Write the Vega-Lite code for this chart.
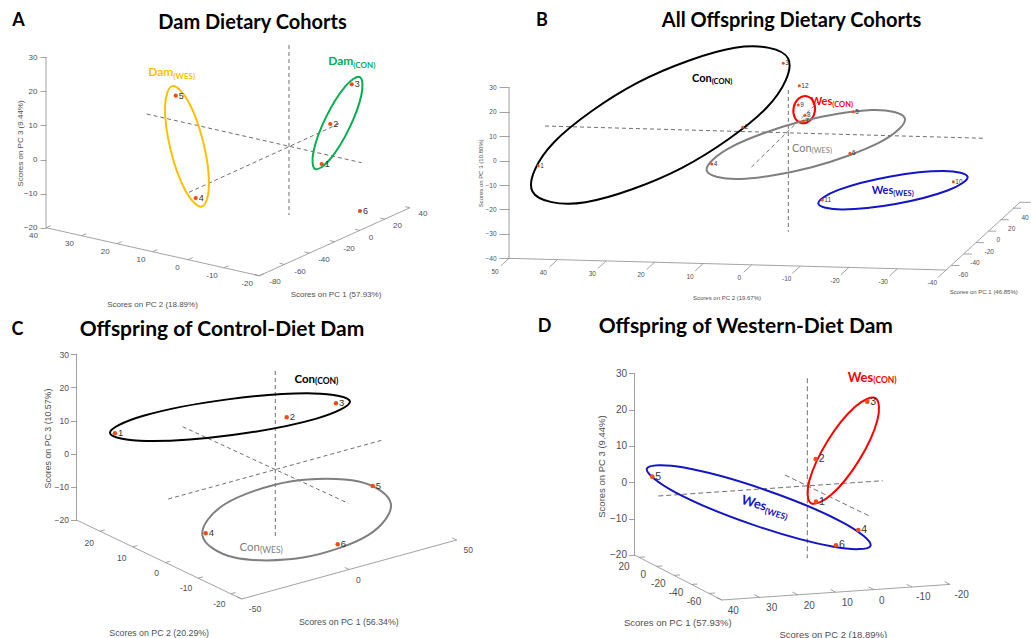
{
"$schema": "https://vega.github.io/schema/vega-lite/v6.json",
"padding": 0,
"background": "white",
"spacing": 5,
"config": {"view": {"stroke": null}, "axis": {"grid": false}},
"resolve": {"scale": {"color": "independent"}},
"datasets": {
"aAxes": [
{"x":0,"y":-20,"x2":0,"y2":30},
{"x":0,"y":-20,"x2":62.55,"y2":-34.08},
{"x":62.55,"y":-34.08,"x2":106.74,"y2":-14.14},
{"x":0,"y":-20,"x2":1.35,"y2":-19.41},
{"x":10.43,"y":-22.35,"x2":11.78,"y2":-21.76},
{"x":20.85,"y":-24.69,"x2":22.2,"y2":-24.1},
{"x":31.28,"y":-27.04,"x2":32.63,"y2":-26.45},
{"x":41.7,"y":-29.38,"x2":43.05,"y2":-28.79},
{"x":52.13,"y":-31.73,"x2":53.48,"y2":-31.14},
{"x":62.55,"y":-34.08,"x2":63.9,"y2":-33.49},
{"x":62.55,"y":-34.08,"x2":61.11,"y2":-33.76},
{"x":69.92,"y":-30.76,"x2":68.48,"y2":-30.44},
{"x":77.28,"y":-27.43,"x2":75.84,"y2":-27.11},
{"x":84.65,"y":-24.11,"x2":83.21,"y2":-23.79},
{"x":92.01,"y":-20.79,"x2":90.57,"y2":-20.47},
{"x":99.38,"y":-17.47,"x2":97.94,"y2":-17.15},
{"x":106.74,"y":-14.14,"x2":105.3,"y2":-13.82}
],
"aGuides": [
{"x":71.26,"y":33.58,"x2":71.26,"y2":-16.28},
{"x":29.53,"y":13.34,"x2":92.58,"y2":-0.94},
{"x":41.94,"y":-9.62,"x2":86.22,"y2":10.62}
],
"aEll": [
{"g":"Dam(WES)","i":0,"x":37.01,"y":21.51},{"g":"Dam(WES)","i":1,"x":34.91,"y":15.51},{"g":"Dam(WES)","i":2,"x":36.58,"y":2.68},{"g":"Dam(WES)","i":3,"x":41.04,"y":-9.46},
{"g":"Dam(WES)","i":4,"x":45.69,"y":-13.8},{"g":"Dam(WES)","i":5,"x":47.79,"y":-7.8},{"g":"Dam(WES)","i":6,"x":46.12,"y":5.03},{"g":"Dam(WES)","i":7,"x":41.66,"y":17.17},
{"g":"Dam(CON)","i":0,"x":92.04,"y":24.18},{"g":"Dam(CON)","i":1,"x":87.71,"y":21.4},{"g":"Dam(CON)","i":2,"x":82.08,"y":12.36},{"g":"Dam(CON)","i":3,"x":78.44,"y":2.34},
{"g":"Dam(CON)","i":4,"x":78.92,"y":-2.78},{"g":"Dam(CON)","i":5,"x":83.25,"y":0.0},{"g":"Dam(CON)","i":6,"x":88.88,"y":9.04},{"g":"Dam(CON)","i":7,"x":92.52,"y":19.06}
],
"aPts": [
{"id":"5","x":38.04,"y":18.71},{"id":"4","x":43.9,"y":-11.29},{"id":"3","x":89.65,"y":22.05},
{"id":"2","x":83.37,"y":10.41},{"id":"1","x":80.85,"y":-1.32},{"id":"6","x":92.08,"y":-15.1}
],
"aTicks": [
{"t":"40","x":-3.67,"y":-22.38},{"t":"30","x":6.89,"y":-24.66},{"t":"20","x":17.39,"y":-27.16},{"t":"10","x":27.86,"y":-29.56},
{"t":"0","x":38.56,"y":-31.85},{"t":"-10","x":48.68,"y":-34.16},{"t":"-20","x":59.0,"y":-36.54},
{"t":"-80","x":67.16,"y":-36.01},{"t":"-60","x":74.49,"y":-32.9},{"t":"-40","x":81.52,"y":-29.47},{"t":"-20","x":88.86,"y":-26.16},
{"t":"0","x":95.31,"y":-22.93},{"t":"20","x":103.08,"y":-19.5},{"t":"40","x":110.56,"y":-16.07}
],
"aTitles": [
{"t":"Scores on PC 2 (18.89%)","x":31.23,"y":-42.52},
{"t":"Scores on PC 1 (57.93%)","x":85.04,"y":-39.74}
],
"aLab": [
{"g":"Dam(WES)","p":"main","t":"Dam","x":37.33,"y":24.49},
{"g":"Dam(WES)","p":"sub","t":"(WES)","x":37.33,"y":23.75},
{"g":"Dam(CON)","p":"main","t":"Dam","x":90.12,"y":27.62},
{"g":"Dam(CON)","p":"sub","t":"(CON)","x":90.12,"y":26.83}
],
"bAxes": [
{"x":0,"y":-40,"x2":0,"y2":30},
{"x":0,"y":-40,"x2":178.89,"y2":-44.79},
{"x":178.89,"y":-44.79,"x2":209.17,"y2":-17.07},
{"x":209.17,"y":-17.07,"x2":213.5,"y2":-17.07},
{"x":0,"y":-40,"x2":-3.32,"y2":-43.03},
{"x":19.88,"y":-40.53,"x2":16.56,"y2":-43.56},
{"x":39.75,"y":-41.06,"x2":36.43,"y2":-44.09},
{"x":59.63,"y":-41.6,"x2":56.31,"y2":-44.63},
{"x":79.51,"y":-42.13,"x2":76.19,"y2":-45.16},
{"x":99.39,"y":-42.66,"x2":96.07,"y2":-45.69},
{"x":119.26,"y":-43.19,"x2":115.94,"y2":-46.22},
{"x":139.14,"y":-43.72,"x2":135.82,"y2":-46.75},
{"x":159.02,"y":-44.26,"x2":155.7,"y2":-47.29},
{"x":178.89,"y":-44.79,"x2":175.57,"y2":-47.82},
{"x":181.05,"y":-42.94,"x2":184.32,"y2":-42.94},
{"x":186.12,"y":-38.23,"x2":189.39,"y2":-38.23},
{"x":191.16,"y":-33.57,"x2":194.43,"y2":-33.57},
{"x":196.19,"y":-28.86,"x2":199.46,"y2":-28.86},
{"x":201.27,"y":-24.19,"x2":204.54,"y2":-24.19},
{"x":206.3,"y":-19.48,"x2":209.57,"y2":-19.48}
],
"bGuides": [
{"x":114.33,"y":28.9,"x2":114.33,"y2":-29.1},
{"x":14.74,"y":14.16,"x2":194.56,"y2":9.13},
{"x":99.26,"y":-2.62,"x2":126.48,"y2":23.99}
],
"bEll": [
{"g":"Con(CON)","i":0,"x":114.25,"y":41.81},{"g":"Con(CON)","i":1,"x":92.51,"y":46.16},{"g":"Con(CON)","i":2,"x":52.86,"y":32.0},{"g":"Con(CON)","i":3,"x":18.52,"y":7.63},
{"g":"Con(CON)","i":4,"x":9.61,"y":-12.67},{"g":"Con(CON)","i":5,"x":31.35,"y":-17.02},{"g":"Con(CON)","i":6,"x":71.0,"y":-2.86},{"g":"Con(CON)","i":7,"x":105.34,"y":21.51},
{"g":"Wes(CON)","i":0,"x":121.81,"y":26.37},{"g":"Wes(CON)","i":1,"x":118.45,"y":25.29},{"g":"Wes(CON)","i":2,"x":116.49,"y":21.61},{"g":"Wes(CON)","i":3,"x":117.07,"y":17.48},
{"g":"Wes(CON)","i":4,"x":119.87,"y":15.32},{"g":"Wes(CON)","i":5,"x":123.23,"y":16.39},{"g":"Wes(CON)","i":6,"x":125.19,"y":20.07},{"g":"Wes(CON)","i":7,"x":124.61,"y":24.2},
{"g":"Con(WES)","i":0,"x":162.04,"y":17.23},{"g":"Con(WES)","i":1,"x":148.44,"y":20.7},{"g":"Con(WES)","i":2,"x":119.05,"y":15.9},{"g":"Con(WES)","i":3,"x":91.09,"y":5.65},
{"g":"Con(WES)","i":4,"x":80.94,"y":-4.05},{"g":"Con(WES)","i":5,"x":94.54,"y":-7.52},{"g":"Con(WES)","i":6,"x":123.93,"y":-2.72},{"g":"Con(WES)","i":7,"x":151.89,"y":7.53},
{"g":"Wes(WES)","i":0,"x":187.73,"y":-6.65},{"g":"Wes(WES)","i":1,"x":178.07,"y":-4.26},{"g":"Wes(WES)","i":2,"x":156.17,"y":-6.48},{"g":"Wes(WES)","i":3,"x":134.86,"y":-12.0},
{"g":"Wes(WES)","i":4,"x":126.63,"y":-17.59},{"g":"Wes(WES)","i":5,"x":136.29,"y":-19.98},{"g":"Wes(WES)","i":6,"x":158.19,"y":-17.76},{"g":"Wes(WES)","i":7,"x":179.5,"y":-12.24}
],
"bPts": [
{"id":"1","x":11.99,"y":-2.09},{"id":"2","x":95.66,"y":13.63},{"id":"3","x":112.28,"y":39.83},{"id":"4","x":82.97,"y":-1.39},
{"id":"5","x":140.93,"y":20.02},{"id":"6","x":139.58,"y":2.99},{"id":"7","x":120.47,"y":16.21},{"id":"8","x":121.16,"y":18.54},
{"id":"9","x":118.42,"y":22.76},{"id":"10","x":181.87,"y":-8.64},{"id":"11","x":128.24,"y":-16.13},{"id":"12","x":118.83,"y":30.66}
],
"bTicks": [
{"t":"50","x":-5.73,"y":-45.48},{"t":"40","x":14.04,"y":-45.89},{"t":"30","x":34.1,"y":-46.42},{"t":"20","x":54.03,"y":-46.95},
{"t":"10","x":74.09,"y":-47.52},{"t":"0","x":94.27,"y":-48.06},{"t":"-10","x":113.67,"y":-48.59},{"t":"-20","x":133.44,"y":-49.16},
{"t":"-30","x":153.21,"y":-49.69},{"t":"-40","x":173.27,"y":-50.23},
{"t":"-60","x":185.96,"y":-46.83},{"t":"-40","x":190.75,"y":-41.79},{"t":"-20","x":196.6,"y":-37.29},{"t":"0","x":200.29,"y":-32.5},
{"t":"20","x":205.77,"y":-28.0},{"t":"40","x":211.22,"y":-23.37}
],
"bTitles": [
{"t":"Scores on PC 2 (19.67%)","x":89.23,"y":-56.37},
{"t":"Scores on PC 1 (46.85%)","x":194.31,"y":-53.66}
],
"bLab": [
{"g":"Con(CON)","p":"main","t":"Con","x":82.97,"y":32.3},
{"g":"Con(CON)","p":"sub","t":"(CON)","x":82.97,"y":31.56},
{"g":"Wes(CON)","p":"main","t":"Wes","x":132.34,"y":22.76},
{"g":"Wes(CON)","p":"sub","t":"(CON)","x":132.34,"y":22.06},
{"g":"Con(WES)","p":"main","t":"Con","x":123.91,"y":3.64},
{"g":"Con(WES)","p":"sub","t":"(WES)","x":123.91,"y":3.11},
{"g":"Wes(WES)","p":"main","t":"Wes","x":157.31,"y":-13.67},
{"g":"Wes(WES)","p":"sub","t":"(WES)","x":157.31,"y":-14.49}
],
"cAxes": [
{"x":0,"y":-20,"x2":0,"y2":30},
{"x":0,"y":-20,"x2":49.85,"y2":-43.84},
{"x":49.85,"y":-43.84,"x2":114.73,"y2":-26.04},
{"x":7.09,"y":-23.39,"x2":8.54,"y2":-23.0},
{"x":16.96,"y":-28.11,"x2":18.41,"y2":-27.72},
{"x":26.83,"y":-32.83,"x2":28.28,"y2":-32.44},
{"x":36.69,"y":-37.55,"x2":38.14,"y2":-37.16},
{"x":46.56,"y":-42.27,"x2":48.01,"y2":-41.88},
{"x":49.85,"y":-43.84,"x2":48.49,"y2":-43.21},
{"x":82.29,"y":-34.94,"x2":80.93,"y2":-34.31},
{"x":114.73,"y":-26.04,"x2":113.37,"y2":-25.41}
],
"cGuides": [
{"x":59.99,"y":24.95,"x2":59.99,"y2":-25.05},
{"x":32.05,"y":8.15,"x2":82.02,"y2":-14.97},
{"x":27.7,"y":-13.67,"x2":92.4,"y2":4.13}
],
"cEll": [
{"g":"Con(CON)","i":0,"x":82.52,"y":15.79},{"g":"Con(CON)","i":1,"x":71.41,"y":18.19},{"g":"Con(CON)","i":2,"x":45.61,"y":16.39},{"g":"Con(CON)","i":3,"x":20.22,"y":11.44},
{"g":"Con(CON)","i":4,"x":10.12,"y":6.23},{"g":"Con(CON)","i":5,"x":21.23,"y":3.83},{"g":"Con(CON)","i":6,"x":47.03,"y":5.63},{"g":"Con(CON)","i":7,"x":72.42,"y":10.58},
{"g":"Con(WES)","i":0,"x":94.86,"y":-15.11},{"g":"Con(WES)","i":1,"x":85.18,"y":-8.37},{"g":"Con(WES)","i":2,"x":64.51,"y":-8.37},{"g":"Con(WES)","i":3,"x":44.97,"y":-15.1},
{"g":"Con(WES)","i":4,"x":38.0,"y":-24.62},{"g":"Con(WES)","i":5,"x":47.69,"y":-31.35},{"g":"Con(WES)","i":6,"x":68.35,"y":-31.35},{"g":"Con(WES)","i":7,"x":87.89,"y":-24.62}
],
"cPts": [
{"id":"1","x":11.62,"y":6.16},{"id":"2","x":63.43,"y":10.98},{"id":"3","x":78.3,"y":15.21},
{"id":"5","x":89.38,"y":-9.75},{"id":"4","x":38.99,"y":-24.02},{"id":"6","x":78.82,"y":-27.34}
],
"cTicks": [
{"t":"20","x":3.86,"y":-27.04},{"t":"10","x":13.64,"y":-31.38},{"t":"0","x":24.2,"y":-36.09},{"t":"-10","x":33.04,"y":-40.62},{"t":"-20","x":43.09,"y":-45.44},
{"t":"-50","x":53.86,"y":-46.95},{"t":"0","x":85.03,"y":-38.11},{"t":"50","x":118.23,"y":-29.06}
],
"cTitles": [
{"t":"Scores on PC 2 (20.29%)","x":24.95,"y":-54.01},
{"t":"Scores on PC 1 (56.34%)","x":82.17,"y":-50.69}
],
"cLab": [
{"g":"Con(CON)","p":"main","t":"Con","x":71.97,"y":21.42},
{"g":"Con(CON)","p":"sub","t":"(CON)","x":71.97,"y":20.88},
{"g":"Con(WES)","p":"main","t":"Con","x":55.37,"y":-29.27},
{"g":"Con(WES)","p":"sub","t":"(WES)","x":55.37,"y":-29.96}
],
"dAxes": [
{"x":0,"y":-20,"x2":0,"y2":30},
{"x":0,"y":-20,"x2":24.0,"y2":-32.39},
{"x":24.0,"y":-32.39,"x2":86.82,"y2":-28.1},
{"x":1.24,"y":-20.64,"x2":2.89,"y2":-20.53},
{"x":6.05,"y":-23.12,"x2":7.7,"y2":-23.01},
{"x":10.87,"y":-25.61,"x2":12.52,"y2":-25.5},
{"x":15.69,"y":-28.1,"x2":17.34,"y2":-27.99},
{"x":20.5,"y":-30.58,"x2":22.15,"y2":-30.47},
{"x":24.0,"y":-32.39,"x2":22.51,"y2":-31.65},
{"x":34.47,"y":-31.67,"x2":32.98,"y2":-30.93},
{"x":44.94,"y":-30.96,"x2":43.45,"y2":-30.22},
{"x":55.41,"y":-30.24,"x2":53.92,"y2":-29.5},
{"x":65.88,"y":-29.53,"x2":64.39,"y2":-28.79},
{"x":76.35,"y":-28.81,"x2":74.86,"y2":-28.07},
{"x":86.82,"y":-28.1,"x2":85.33,"y2":-27.36}
],
"dGuides": [
{"x":47.55,"y":28.62,"x2":47.55,"y2":-20.91},
{"x":6.55,"y":-3.77,"x2":68.3,"y2":0.44},
{"x":41.41,"y":2.01,"x2":65.0,"y2":-9.47}
],
"dEll": [
{"g":"Wes(CON)","i":0,"x":66.37,"y":23.12},{"g":"Wes(CON)","i":1,"x":60.7,"y":20.79},{"g":"Wes(CON)","i":2,"x":53.13,"y":11.38},{"g":"Wes(CON)","i":3,"x":48.1,"y":0.39},
{"g":"Wes(CON)","i":4,"x":48.55,"y":-5.72},{"g":"Wes(CON)","i":5,"x":54.22,"y":-3.39},{"g":"Wes(CON)","i":6,"x":61.79,"y":6.03},{"g":"Wes(CON)","i":7,"x":66.82,"y":17.01},
{"g":"Wes(WES)","i":0,"x":64.96,"y":-17.45},{"g":"Wes(WES)","i":1,"x":57.12,"y":-10.94},{"g":"Wes(WES)","i":2,"x":35.84,"y":-2.04},{"g":"Wes(WES)","i":3,"x":13.59,"y":4.05},
{"g":"Wes(WES)","i":4,"x":3.4,"y":3.75},{"g":"Wes(WES)","i":5,"x":11.24,"y":-2.76},{"g":"Wes(WES)","i":6,"x":32.52,"y":-11.66},{"g":"Wes(WES)","i":7,"x":54.77,"y":-17.75}
],
"dPts": [
{"id":"5","x":4.9,"y":1.54},{"id":"2","x":49.86,"y":6.41},{"id":"3","x":64.06,"y":22.18},
{"id":"1","x":49.94,"y":-5.34},{"id":"4","x":61.59,"y":-13.13},{"id":"6","x":55.45,"y":-17.34}
],
"dTicks": [
{"t":"20","x":-2.89,"y":-23.23},{"t":"0","x":2.42,"y":-25.51},{"t":"-20","x":6.55,"y":-27.99},{"t":"-40","x":11.42,"y":-30.38},{"t":"-60","x":16.37,"y":-32.86},
{"t":"40","x":27.19,"y":-35.33},{"t":"30","x":37.75,"y":-34.67},{"t":"20","x":48.1,"y":-33.96},{"t":"10","x":58.56,"y":-33.3},
{"t":"0","x":68.02,"y":-32.58},{"t":"-10","x":79.47,"y":-31.65},{"t":"-20","x":90.04,"y":-31.01}
],
"dTitles": [
{"t":"Scores on PC 1 (57.93%)","x":11.92,"y":-38.8},
{"t":"Scores on PC 2 (18.89%)","x":54.71,"y":-42.02}
],
"dLab": [
{"g":"Wes(CON)","p":"main","t":"Wes","x":65.71,"y":27.68},
{"g":"Wes(CON)","p":"sub","t":"(CON)","x":65.71,"y":27.19},
{"g":"Wes(WES)","p":"main","t":"Wes","x":35.91,"y":-7.9},
{"g":"Wes(WES)","p":"sub","t":"(WES)","x":35.72,"y":-8.56}
]
},
"vconcat": [
{"spacing": 5, "resolve": {"scale": {"color": "independent"}}, "hconcat": [
{
"width": 455, "height": 310,
"encoding": {
"x": {"field": "x", "type": "quantitative", "axis": null, "scale": {"domain": [-13.49, 119.94], "nice": false, "zero": false}},
"y": {"field": "y", "type": "quantitative", "scale": {"domain": [-44.13, 46.77], "nice": false, "zero": false},
"axis": {"values": [-20,-10,0,10,20,30], "domain": false, "offset": -46, "minExtent": 0, "tickSize": 6, "tickColor": "#8c8c8c", "tickWidth": 0.8, "labelFont": "Liberation Sans", "labelFontSize": 8, "labelColor": "#505050", "labelPadding": 3, "title": "Scores on PC 3 (9.44%)", "titleFont": "Liberation Sans", "titleFontSize": 8, "titleFontWeight": "normal", "titleColor": "#505050", "titleBaseline": "middle", "titleAlign": "center", "titleX": -26, "titleY": 143}}
},
"layer": [
{"data": {"name": "aAxes"}, "mark": {"type": "rule", "color": "#8c8c8c", "strokeWidth": 0.8}, "encoding": {"x2": {"field": "x2"}, "y2": {"field": "y2"}}},
{"data": {"name": "aGuides"}, "mark": {"type": "rule", "color": "#707070", "strokeWidth": 1, "strokeDash": [4, 3]}, "encoding": {"x2": {"field": "x2"}, "y2": {"field": "y2"}}},
{"data": {"name": "aEll"}, "mark": {"type": "line", "interpolate": "cardinal-closed", "strokeWidth": 2}, "encoding": {"color": {"field": "g", "type": "nominal", "legend": null, "scale": {"domain": ["Dam(WES)", "Dam(CON)", "Con(CON)", "Wes(CON)", "Con(WES)", "Wes(WES)"], "range": ["#FFC000", "#00B050", "#000000", "#FF0000", "#7F7F7F", "#1414C8"]}}, "order": {"field": "i", "type": "quantitative"}}},
{"data": {"name": "aPts"}, "mark": {"type": "point", "filled": true, "color": "#EE4D1A", "size": 18, "opacity": 1}},
{"data": {"name": "aPts"}, "mark": {"type": "text", "align": "left", "baseline": "middle", "dx": 3, "font": "Liberation Sans", "fontSize": 9, "color": "#333333"}, "encoding": {"text": {"field": "id"}}},
{"data": {"name": "aTicks"}, "mark": {"type": "text", "align": "center", "baseline": "middle", "font": "Liberation Sans", "fontSize": 8, "color": "#505050"}, "encoding": {"text": {"field": "t"}}},
{"data": {"name": "aTitles"}, "mark": {"type": "text", "align": "center", "baseline": "middle", "font": "Liberation Sans", "fontSize": 8, "color": "#505050"}, "encoding": {"text": {"field": "t"}}},
{"data": {"name": "aLab"}, "transform": [{"filter": "datum.p == 'main'"}], "mark": {"type": "text", "align": "right", "baseline": "alphabetic", "font": "Lato", "fontWeight": "bold", "fontSize": 12}, "encoding": {"text": {"field": "t"}, "color": {"field": "g", "type": "nominal", "legend": null, "scale": {"domain": ["Dam(WES)", "Dam(CON)", "Con(CON)", "Wes(CON)", "Con(WES)", "Wes(WES)"], "range": ["#FFC000", "#00B050", "#000000", "#FF0000", "#7F7F7F", "#1414C8"]}}}},
{"data": {"name": "aLab"}, "transform": [{"filter": "datum.p == 'sub'"}], "mark": {"type": "text", "align": "left", "baseline": "alphabetic", "font": "Lato", "fontWeight": "bold", "fontSize": 8}, "encoding": {"text": {"field": "t"}, "color": {"field": "g", "type": "nominal", "legend": null, "scale": {"domain": ["Dam(WES)", "Dam(CON)", "Con(CON)", "Wes(CON)", "Con(WES)", "Wes(WES)"], "range": ["#FFC000", "#00B050", "#000000", "#FF0000", "#7F7F7F", "#1414C8"]}}}},
{"data": {"values": [{"t": "A", "x": -8.06, "y": 40.62}]}, "mark": {"type": "text", "align": "center", "baseline": "middle", "font": "Lato", "fontWeight": "bold", "fontSize": 18, "color": "#000000"}, "encoding": {"text": {"field": "t"}}},
{"data": {"values": [{"t": "Dam Dietary Cohorts", "x": 60.56, "y": 40.03}]}, "mark": {"type": "text", "align": "center", "baseline": "middle", "font": "Lato", "fontWeight": "bold", "fontSize": 20, "color": "#000000"}, "encoding": {"text": {"field": "t"}}}
]
},
{
"width": 571, "height": 310,
"encoding": {
"x": {"field": "x", "type": "quantitative", "axis": null, "scale": {"domain": [-20.06, 213.67], "nice": false, "zero": false}},
"y": {"field": "y", "type": "quantitative", "scale": {"domain": [-61.15, 65.74], "nice": false, "zero": false},
"axis": {"values": [-40,-30,-20,-10,0,10,20,30], "domain": false, "offset": -49, "minExtent": 0, "tickSize": 10, "tickColor": "#8c8c8c", "tickWidth": 0.8, "labelFont": "Liberation Sans", "labelFontSize": 6.5, "labelColor": "#505050", "labelPadding": 3, "title": "Scores on PC 3 (10.80%)", "titleFont": "Liberation Sans", "titleFontSize": 6, "titleFontWeight": "normal", "titleColor": "#505050", "titleBaseline": "middle", "titleAlign": "center", "titleX": -28.3, "titleY": 172.8}}
},
"layer": [
{"data": {"name": "bAxes"}, "mark": {"type": "rule", "color": "#8c8c8c", "strokeWidth": 0.8}, "encoding": {"x2": {"field": "x2"}, "y2": {"field": "y2"}}},
{"data": {"name": "bGuides"}, "mark": {"type": "rule", "color": "#707070", "strokeWidth": 1, "strokeDash": [4, 3]}, "encoding": {"x2": {"field": "x2"}, "y2": {"field": "y2"}}},
{"data": {"name": "bEll"}, "mark": {"type": "line", "interpolate": "cardinal-closed", "strokeWidth": 2}, "encoding": {"color": {"field": "g", "type": "nominal", "legend": null, "scale": {"domain": ["Dam(WES)", "Dam(CON)", "Con(CON)", "Wes(CON)", "Con(WES)", "Wes(WES)"], "range": ["#FFC000", "#00B050", "#000000", "#FF0000", "#7F7F7F", "#1414C8"]}}, "order": {"field": "i", "type": "quantitative"}}},
{"data": {"name": "bPts"}, "mark": {"type": "point", "filled": true, "color": "#EE4D1A", "size": 9, "opacity": 1}},
{"data": {"name": "bPts"}, "mark": {"type": "text", "align": "left", "baseline": "middle", "dx": 2, "font": "Liberation Sans", "fontSize": 6.5, "color": "#333333"}, "encoding": {"text": {"field": "id"}}},
{"data": {"name": "bTicks"}, "mark": {"type": "text", "align": "center", "baseline": "middle", "font": "Liberation Sans", "fontSize": 6.5, "color": "#505050"}, "encoding": {"text": {"field": "t"}}},
{"data": {"name": "bTitles"}, "mark": {"type": "text", "align": "center", "baseline": "middle", "font": "Liberation Sans", "fontSize": 6, "color": "#505050"}, "encoding": {"text": {"field": "t"}}},
{"data": {"name": "bLab"}, "transform": [{"filter": "datum.p == 'main' && datum.g != 'Con(WES)'"}], "mark": {"type": "text", "align": "right", "baseline": "alphabetic", "font": "Lato", "fontWeight": "bold", "fontSize": 11}, "encoding": {"text": {"field": "t"}, "color": {"field": "g", "type": "nominal", "legend": null, "scale": {"domain": ["Dam(WES)", "Dam(CON)", "Con(CON)", "Wes(CON)", "Con(WES)", "Wes(WES)"], "range": ["#FFC000", "#00B050", "#000000", "#FF0000", "#7F7F7F", "#1414C8"]}}}},
{"data": {"name": "bLab"}, "transform": [{"filter": "datum.p == 'sub' && datum.g != 'Con(WES)'"}], "mark": {"type": "text", "align": "left", "baseline": "alphabetic", "font": "Lato", "fontWeight": "bold", "fontSize": 7.5}, "encoding": {"text": {"field": "t"}, "color": {"field": "g", "type": "nominal", "legend": null, "scale": {"domain": ["Dam(WES)", "Dam(CON)", "Con(CON)", "Wes(CON)", "Con(WES)", "Wes(WES)"], "range": ["#FFC000", "#00B050", "#000000", "#FF0000", "#7F7F7F", "#1414C8"]}}}},
{"data": {"name": "bLab"}, "transform": [{"filter": "datum.p == 'main' && datum.g == 'Con(WES)'"}], "mark": {"type": "text", "align": "right", "baseline": "alphabetic", "font": "Lato", "fontWeight": "normal", "fontSize": 11}, "encoding": {"text": {"field": "t"}, "color": {"field": "g", "type": "nominal", "legend": null, "scale": {"domain": ["Dam(WES)", "Dam(CON)", "Con(CON)", "Wes(CON)", "Con(WES)", "Wes(WES)"], "range": ["#FFC000", "#00B050", "#000000", "#FF0000", "#7F7F7F", "#1414C8"]}}}},
{"data": {"name": "bLab"}, "transform": [{"filter": "datum.p == 'sub' && datum.g == 'Con(WES)'"}], "mark": {"type": "text", "align": "left", "baseline": "alphabetic", "font": "Lato", "fontWeight": "normal", "fontSize": 7.5}, "encoding": {"text": {"field": "t"}, "color": {"field": "g", "type": "nominal", "legend": null, "scale": {"domain": ["Dam(WES)", "Dam(CON)", "Con(CON)", "Wes(CON)", "Con(WES)", "Wes(WES)"], "range": ["#FFC000", "#00B050", "#000000", "#FF0000", "#7F7F7F", "#1414C8"]}}}},
{"data": {"values": [{"t": "B", "x": 13.51, "y": 57.14}]}, "mark": {"type": "text", "align": "center", "baseline": "middle", "font": "Lato", "fontWeight": "bold", "fontSize": 18, "color": "#000000"}, "encoding": {"text": {"field": "t"}}},
{"data": {"values": [{"t": "All Offspring Dietary Cohorts", "x": 115.64, "y": 57.14}]}, "mark": {"type": "text", "align": "center", "baseline": "middle", "font": "Lato", "fontWeight": "bold", "fontSize": 20, "color": "#000000"}, "encoding": {"text": {"field": "t"}}}
]
}
]},
{"spacing": 5, "resolve": {"scale": {"color": "independent"}}, "hconcat": [
{
"width": 520, "height": 323,
"encoding": {
"x": {"field": "x", "type": "quantitative", "axis": null, "scale": {"domain": [-23.08, 133.83], "nice": false, "zero": false}},
"y": {"field": "y", "type": "quantitative", "scale": {"domain": [-55.61, 41.85], "nice": false, "zero": false},
"axis": {"values": [-20,-10,0,10,20,30], "domain": false, "offset": -76.5, "minExtent": 0, "tickSize": 6, "tickColor": "#8c8c8c", "tickWidth": 0.8, "labelFont": "Liberation Sans", "labelFontSize": 8.5, "labelColor": "#505050", "labelPadding": 2, "title": "Scores on PC 3 (10.57%)", "titleFont": "Liberation Sans", "titleFontSize": 8.8, "titleFontWeight": "normal", "titleColor": "#505050", "titleBaseline": "middle", "titleAlign": "center", "titleX": -29.2, "titleY": 123}}
},
"layer": [
{"data": {"name": "cAxes"}, "mark": {"type": "rule", "color": "#8c8c8c", "strokeWidth": 0.8}, "encoding": {"x2": {"field": "x2"}, "y2": {"field": "y2"}}},
{"data": {"name": "cGuides"}, "mark": {"type": "rule", "color": "#707070", "strokeWidth": 1, "strokeDash": [4, 3]}, "encoding": {"x2": {"field": "x2"}, "y2": {"field": "y2"}}},
{"data": {"name": "cEll"}, "mark": {"type": "line", "interpolate": "cardinal-closed", "strokeWidth": 2}, "encoding": {"color": {"field": "g", "type": "nominal", "legend": null, "scale": {"domain": ["Dam(WES)", "Dam(CON)", "Con(CON)", "Wes(CON)", "Con(WES)", "Wes(WES)"], "range": ["#FFC000", "#00B050", "#000000", "#FF0000", "#7F7F7F", "#1414C8"]}}, "order": {"field": "i", "type": "quantitative"}}},
{"data": {"name": "cPts"}, "mark": {"type": "point", "filled": true, "color": "#EE4D1A", "size": 20, "opacity": 1}},
{"data": {"name": "cPts"}, "mark": {"type": "text", "align": "left", "baseline": "middle", "dx": 3, "font": "Liberation Sans", "fontSize": 9.5, "color": "#333333"}, "encoding": {"text": {"field": "id"}}},
{"data": {"name": "cTicks"}, "mark": {"type": "text", "align": "center", "baseline": "middle", "font": "Liberation Sans", "fontSize": 8.5, "color": "#505050"}, "encoding": {"text": {"field": "t"}}},
{"data": {"name": "cTitles"}, "mark": {"type": "text", "align": "center", "baseline": "middle", "font": "Liberation Sans", "fontSize": 8.8, "color": "#505050"}, "encoding": {"text": {"field": "t"}}},
{"data": {"name": "cLab"}, "transform": [{"filter": "datum.p == 'main' && datum.g != 'Con(WES)'"}], "mark": {"type": "text", "align": "right", "baseline": "alphabetic", "font": "Lato", "fontWeight": "bold", "fontSize": 11.5}, "encoding": {"text": {"field": "t"}, "color": {"field": "g", "type": "nominal", "legend": null, "scale": {"domain": ["Dam(WES)", "Dam(CON)", "Con(CON)", "Wes(CON)", "Con(WES)", "Wes(WES)"], "range": ["#FFC000", "#00B050", "#000000", "#FF0000", "#7F7F7F", "#1414C8"]}}}},
{"data": {"name": "cLab"}, "transform": [{"filter": "datum.p == 'sub' && datum.g != 'Con(WES)'"}], "mark": {"type": "text", "align": "left", "baseline": "alphabetic", "font": "Lato", "fontWeight": "bold", "fontSize": 8.5}, "encoding": {"text": {"field": "t"}, "color": {"field": "g", "type": "nominal", "legend": null, "scale": {"domain": ["Dam(WES)", "Dam(CON)", "Con(CON)", "Wes(CON)", "Con(WES)", "Wes(WES)"], "range": ["#FFC000", "#00B050", "#000000", "#FF0000", "#7F7F7F", "#1414C8"]}}}},
{"data": {"name": "cLab"}, "transform": [{"filter": "datum.p == 'main' && datum.g == 'Con(WES)'"}], "mark": {"type": "text", "align": "right", "baseline": "alphabetic", "font": "Lato", "fontWeight": "normal", "fontSize": 11.5}, "encoding": {"text": {"field": "t"}, "color": {"field": "g", "type": "nominal", "legend": null, "scale": {"domain": ["Dam(WES)", "Dam(CON)", "Con(CON)", "Wes(CON)", "Con(WES)", "Wes(WES)"], "range": ["#FFC000", "#00B050", "#000000", "#FF0000", "#7F7F7F", "#1414C8"]}}}},
{"data": {"name": "cLab"}, "transform": [{"filter": "datum.p == 'sub' && datum.g == 'Con(WES)'"}], "mark": {"type": "text", "align": "left", "baseline": "alphabetic", "font": "Lato", "fontWeight": "normal", "fontSize": 8.5}, "encoding": {"text": {"field": "t"}, "color": {"field": "g", "type": "nominal", "legend": null, "scale": {"domain": ["Dam(WES)", "Dam(CON)", "Con(CON)", "Wes(CON)", "Con(WES)", "Wes(WES)"], "range": ["#FFC000", "#00B050", "#000000", "#FF0000", "#7F7F7F", "#1414C8"]}}}},
{"data": {"values": [{"t": "C", "x": -17.8, "y": 37.33}]}, "mark": {"type": "text", "align": "center", "baseline": "middle", "font": "Lato", "fontWeight": "bold", "fontSize": 18, "color": "#000000"}, "encoding": {"text": {"field": "t"}}},
{"data": {"values": [{"t": "Offspring of Control-Diet Dam", "x": 43.9, "y": 37.33}]}, "mark": {"type": "text", "align": "center", "baseline": "middle", "font": "Lato", "fontWeight": "bold", "fontSize": 21, "color": "#000000"}, "encoding": {"text": {"field": "t"}}}
]
},
{
"width": 506, "height": 323,
"encoding": {
"x": {"field": "x", "type": "quantitative", "axis": null, "scale": {"domain": [-30.13, 109.11], "nice": false, "zero": false}},
"y": {"field": "y", "type": "quantitative", "scale": {"domain": [-42.85, 46.04], "nice": false, "zero": false},
"axis": {"values": [-20,-10,0,10,20,30], "domain": false, "offset": -109.5, "minExtent": 0, "tickSize": 6, "tickColor": "#8c8c8c", "tickWidth": 0.8, "labelFont": "Liberation Sans", "labelFontSize": 10, "labelColor": "#505050", "labelPadding": 2, "title": "Scores on PC 3 (9.44%)", "titleFont": "Liberation Sans", "titleFontSize": 9.5, "titleFontWeight": "normal", "titleColor": "#505050", "titleBaseline": "middle", "titleAlign": "center", "titleX": -32.8, "titleY": 151}}
},
"layer": [
{"data": {"name": "dAxes"}, "mark": {"type": "rule", "color": "#8c8c8c", "strokeWidth": 0.8}, "encoding": {"x2": {"field": "x2"}, "y2": {"field": "y2"}}},
{"data": {"name": "dGuides"}, "mark": {"type": "rule", "color": "#707070", "strokeWidth": 1, "strokeDash": [5, 3]}, "encoding": {"x2": {"field": "x2"}, "y2": {"field": "y2"}}},
{"data": {"name": "dEll"}, "mark": {"type": "line", "interpolate": "cardinal-closed", "strokeWidth": 2}, "encoding": {"color": {"field": "g", "type": "nominal", "legend": null, "scale": {"domain": ["Dam(WES)", "Dam(CON)", "Con(CON)", "Wes(CON)", "Con(WES)", "Wes(WES)"], "range": ["#FFC000", "#00B050", "#000000", "#FF0000", "#7F7F7F", "#1414C8"]}}, "order": {"field": "i", "type": "quantitative"}}},
{"data": {"name": "dPts"}, "mark": {"type": "point", "filled": true, "color": "#EE4D1A", "size": 22, "opacity": 1}},
{"data": {"name": "dPts"}, "mark": {"type": "text", "align": "left", "baseline": "middle", "dx": 3, "font": "Liberation Sans", "fontSize": 10.5, "color": "#333333"}, "encoding": {"text": {"field": "id"}}},
{"data": {"name": "dTicks"}, "mark": {"type": "text", "align": "center", "baseline": "middle", "font": "Liberation Sans", "fontSize": 10, "color": "#505050"}, "encoding": {"text": {"field": "t"}}},
{"data": {"name": "dTitles"}, "mark": {"type": "text", "align": "center", "baseline": "middle", "font": "Liberation Sans", "fontSize": 9.5, "color": "#505050"}, "encoding": {"text": {"field": "t"}}},
{"data": {"name": "dLab"}, "transform": [{"filter": "datum.p == 'main' && datum.g == 'Wes(CON)'"}], "mark": {"type": "text", "align": "right", "baseline": "alphabetic", "font": "Lato", "fontWeight": "bold", "fontSize": 13}, "encoding": {"text": {"field": "t"}, "color": {"field": "g", "type": "nominal", "legend": null, "scale": {"domain": ["Dam(WES)", "Dam(CON)", "Con(CON)", "Wes(CON)", "Con(WES)", "Wes(WES)"], "range": ["#FFC000", "#00B050", "#000000", "#FF0000", "#7F7F7F", "#1414C8"]}}}},
{"data": {"name": "dLab"}, "transform": [{"filter": "datum.p == 'sub' && datum.g == 'Wes(CON)'"}], "mark": {"type": "text", "align": "left", "baseline": "alphabetic", "font": "Lato", "fontWeight": "bold", "fontSize": 8.5}, "encoding": {"text": {"field": "t"}, "color": {"field": "g", "type": "nominal", "legend": null, "scale": {"domain": ["Dam(WES)", "Dam(CON)", "Con(CON)", "Wes(CON)", "Con(WES)", "Wes(WES)"], "range": ["#FFC000", "#00B050", "#000000", "#FF0000", "#7F7F7F", "#1414C8"]}}}},
{"data": {"name": "dLab"}, "transform": [{"filter": "datum.p == 'main' && datum.g == 'Wes(WES)'"}], "mark": {"type": "text", "align": "right", "baseline": "alphabetic", "font": "Lato", "fontWeight": "bold", "fontSize": 13, "angle": 17}, "encoding": {"text": {"field": "t"}, "color": {"field": "g", "type": "nominal", "legend": null, "scale": {"domain": ["Dam(WES)", "Dam(CON)", "Con(CON)", "Wes(CON)", "Con(WES)", "Wes(WES)"], "range": ["#FFC000", "#00B050", "#000000", "#FF0000", "#7F7F7F", "#1414C8"]}}}},
{"data": {"name": "dLab"}, "transform": [{"filter": "datum.p == 'sub' && datum.g == 'Wes(WES)'"}], "mark": {"type": "text", "align": "left", "baseline": "alphabetic", "font": "Lato", "fontWeight": "bold", "fontSize": 8.5, "angle": 17}, "encoding": {"text": {"field": "t"}, "color": {"field": "g", "type": "nominal", "legend": null, "scale": {"domain": ["Dam(WES)", "Dam(CON)", "Con(CON)", "Wes(CON)", "Con(WES)", "Wes(WES)"], "range": ["#FFC000", "#00B050", "#000000", "#FF0000", "#7F7F7F", "#1414C8"]}}}},
{"data": {"values": [{"t": "D", "x": -24.77, "y": 42.74}]}, "mark": {"type": "text", "align": "center", "baseline": "middle", "font": "Lato", "fontWeight": "bold", "fontSize": 18, "color": "#000000"}, "encoding": {"text": {"field": "t"}}},
{"data": {"values": [{"t": "Offspring of Western-Diet Dam", "x": 30.63, "y": 42.74}]}, "mark": {"type": "text", "align": "center", "baseline": "middle", "font": "Lato", "fontWeight": "bold", "fontSize": 21, "color": "#000000"}, "encoding": {"text": {"field": "t"}}}
]
}
]}
]
}
